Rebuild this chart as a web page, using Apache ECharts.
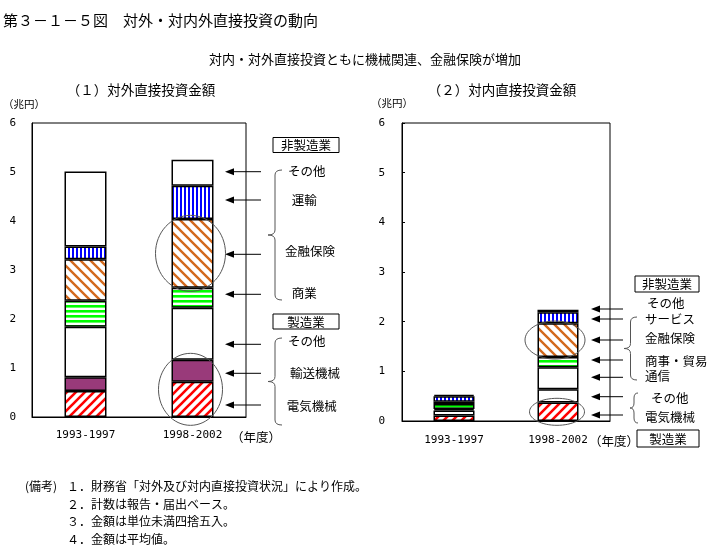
<!DOCTYPE html>
<html><head><meta charset="utf-8">
<script src="https://cdn.jsdelivr.net/npm/echarts@6/dist/echarts.min.js"></script>
<style>html,body{margin:0;padding:0;background:#fff}#c{width:721px;height:550px}</style>
</head><body><div id="c"></div>
<script>
// ---- data (兆円) ----
const periods = ['1993-1997', '1998-2002'];
// (1) 対外直接投資金額 (bottom -> top)
const outElectric     = [0.53, 0.72]; // 電気機械
const outTransportEq  = [0.28, 0.45]; // 輸送機械
const outMfgOther     = [1.03, 1.06]; // 製造業 その他
const outCommerce     = [0.53, 0.41]; // 商業
const outFinance      = [0.85, 1.40]; // 金融保険
const outTransport    = [0.26, 0.68]; // 運輸
const outNonMfgOther  = [1.53, 0.53]; // 非製造業 その他
// (2) 対内直接投資金額 (bottom -> top)
const inElectric      = [0.11, 0.37]; // 電気機械
const inMfgOther      = [0.10, 0.27]; // 製造業 その他
const inTelecom       = [0.03, 0.44]; // 通信
const inTrade         = [0.10, 0.21]; // 商事・貿易
const inFinance       = [0.05, 0.68]; // 金融保険
const inService       = [0.11, 0.22]; // サービス
const inNonMfgOther   = [0.03, 0.05]; // 非製造業 その他
const yMin = 0, yMax = 6, yStep = 1;

const JP = '"Noto Sans CJK JP", sans-serif';
const NUM = '"DejaVu Sans Mono", monospace';

// ---- patterns ----
function diag(color, p, lw, slash) {
  const c = document.createElement('canvas'); c.width = p; c.height = p;
  const g = c.getContext('2d');
  g.fillStyle = '#fff'; g.fillRect(0, 0, p, p);
  g.strokeStyle = color; g.lineWidth = lw; g.beginPath();
  for (let k = -1; k <= 1; k++) {
    if (slash) { g.moveTo(-1 + k * p, p + 1); g.lineTo(p + 1 + k * p, -1); }
    else { g.moveTo(-1 + k * p, -1); g.lineTo(p + 1 + k * p, p + 1); }
  }
  g.stroke();
  return { image: c, repeat: 'repeat' };
}
function stripes(color, p, lw, vertical) {
  const c = document.createElement('canvas'); c.width = p; c.height = p;
  const g = c.getContext('2d');
  g.fillStyle = '#fff'; g.fillRect(0, 0, p, p);
  g.fillStyle = color;
  if (vertical) g.fillRect(0, 0, lw, p); else g.fillRect(0, 0, p, lw);
  return { image: c, repeat: 'repeat' };
}
const redHatch = diag('#ff0000', 9, 2.6, true);
const orangeHatch = diag('#d2691e', 10, 2.4, false);
const blueStripe = stripes('#0000ff', 4, 2, true);
const greenStripe = stripes('#00ff00', 5, 2.6, false);
const purple = '#993a7a';

function bar(name, data, color, idx, w) {
  return {
    name, type: 'bar', stack: 'st' + idx, xAxisIndex: idx, yAxisIndex: idx,
    data, barWidth: w, silent: true, animation: false,
    itemStyle: { color, borderColor: '#000', borderWidth: 1.5 }
  };
}

const chart = echarts.init(document.getElementById('c'), null, { renderer: 'canvas' });

const axisLabelY = { color: '#000', fontFamily: NUM, fontSize: 11 };
const option = {
  animation: false,
  grid: [
    { left: 32, top: 123, width: 214, height: 294, show: true, borderColor: '#000', borderWidth: 1 },
    { left: 402, top: 123, width: 208, height: 298, show: true, borderColor: '#000', borderWidth: 1 }
  ],
  xAxis: [0, 1].map(i => ({
    type: 'category', gridIndex: i, data: periods,
    axisLine: { lineStyle: { color: '#000', width: 1 } },
    axisTick: { inside: true, length: 4, lineStyle: { color: '#000' } },
    axisLabel: { color: '#000', fontFamily: NUM, fontSize: 11, margin: i === 0 ? 13 : 14 }
  })),
  yAxis: [
    { type: 'value', gridIndex: 0, min: yMin, max: yMax, interval: yStep,
      axisLine: { show: true, lineStyle: { color: '#000' } }, axisTick: { show: false },
      splitLine: { show: false }, axisLabel: Object.assign({ margin: 16 }, axisLabelY) },
    { type: 'value', gridIndex: 1, min: yMin, max: yMax, interval: yStep,
      axisLine: { show: true, lineStyle: { color: '#000' } },
      axisTick: { show: true, inside: true, length: 3, lineStyle: { color: '#000' } },
      splitLine: { show: false }, axisLabel: Object.assign({ margin: 17 }, axisLabelY) }
  ],
  series: [
    bar('電気機械', outElectric, redHatch, 0, 42),
    bar('輸送機械', outTransportEq, purple, 0, 42),
    bar('その他(製造業)', outMfgOther, '#fff', 0, 42),
    bar('商業', outCommerce, greenStripe, 0, 42),
    bar('金融保険', outFinance, orangeHatch, 0, 42),
    bar('運輸', outTransport, blueStripe, 0, 42),
    bar('その他(非製造業)', outNonMfgOther, '#fff', 0, 42),
    bar('電気機械', inElectric, redHatch, 1, 41),
    bar('その他(製造業)', inMfgOther, '#fff', 1, 41),
    bar('通信', inTelecom, '#fff', 1, 41),
    bar('商事・貿易', inTrade, greenStripe, 1, 41),
    bar('金融保険', inFinance, orangeHatch, 1, 41),
    bar('サービス', inService, blueStripe, 1, 41),
    bar('その他(非製造業)', inNonMfgOther, '#fff', 1, 41)
  ]
};
chart.setOption(option);

// ---- annotations ----
const G = [];
function txt(s, x, y, size, align) {
  G.push({ type: 'text', x, y, silent: true, z: 100,
    style: { text: s, fill: '#000', font: size + 'px ' + JP, textAlign: align || 'left', textVerticalAlign: 'middle' } });
}
function box(s, x, y, w, h) {
  G.push({ type: 'rect', silent: true, z: 99, shape: { x, y, width: w, height: h },
    style: { fill: '#fff', stroke: '#000', lineWidth: 1 } });
  txt(s, x + w / 2, y + h / 2 + 0.5, 12.5, 'center');
}
function arrow(tip, tail, y) {
  G.push({ type: 'line', silent: true, z: 100, shape: { x1: tip + 6, y1: y, x2: tail, y2: y }, style: { stroke: '#000', lineWidth: 1 } });
  G.push({ type: 'polygon', silent: true, z: 100, shape: { points: [[tip, y], [tip + 9, y - 3.5], [tip + 9, y + 3.5]] }, style: { fill: '#000' } });
}
const braceStyle = { stroke: '#555', lineWidth: 1, fill: null };
function curve(x1, y1, cx, cy, x2, y2) {
  G.push({ type: 'bezierCurve', silent: true, z: 100, shape: { x1, y1, x2, y2, cpx1: cx, cpy1: cy }, style: braceStyle });
}
function seg(x1, y1, x2, y2) {
  G.push({ type: 'line', silent: true, z: 100, shape: { x1, y1, x2, y2 }, style: braceStyle });
}
function brace(x, y1, y2, w) {
  const ym = (y1 + y2) / 2, m = x + w / 2, r = 5;
  curve(x + w, y1, m, y1, m, y1 + r);
  seg(m, y1 + r, m, ym - r);
  curve(m, ym - r, m, ym, x, ym);
  curve(x, ym, m, ym, m, ym + r);
  seg(m, ym + r, m, y2 - r);
  curve(m, y2 - r, m, y2, x + w, y2);
}
function ellipse(cx, cy, rx, ry) {
  G.push({ type: 'ellipse', silent: true, z: 101, shape: { cx, cy, rx, ry }, style: { fill: null, stroke: '#555', lineWidth: 1 } });
}

// titles
txt('第３－１－５図　対外・対内外直接投資の動向', 3, 20, 15);
txt('対内・対外直接投資ともに機械関連、金融保険が増加', 365, 59, 13, 'center');
txt('（１）対外直接投資金額', 141, 90, 13.5, 'center');
txt('（２）対内直接投資金額', 502, 90, 13.5, 'center');
txt('（兆円）', 3, 104, 10.5);
txt('（兆円）', 371, 103, 10.5);
txt('（年度）', 231, 437, 12.5);
txt('（年度）', 589, 441, 12.5);

// left annotations
[171.7, 200, 254.3, 294.3, 344.3, 373.3, 405].forEach(y => arrow(225, 261, y));
box('非製造業', 273, 137.5, 66, 15);
box('製造業', 273, 314, 66, 15);
txt('その他', 288, 171.7, 12.5);
txt('運輸', 291.7, 200, 12.5);
txt('金融保険', 285, 251.7, 12.5);
txt('商業', 291.7, 293.3, 12.5);
txt('その他', 288, 341.7, 12.5);
txt('輸送機械', 290, 373.3, 12.5);
txt('電気機械', 286.7, 406.7, 12.5);

// right annotations
[309, 319, 340, 360, 377.3, 396.7, 415].forEach(y => arrow(591, 623, y));
box('非製造業', 635, 276, 64, 16);
box('製造業', 637, 430, 62, 17);
txt('その他', 647, 303, 12.5);
txt('サービス', 645, 319, 12.5);
txt('金融保険', 645, 338, 12.5);
txt('商事・貿易', 645, 361, 12.5);
txt('通信', 645, 376.5, 12.5);
txt('その他', 651, 398, 12.5);
txt('電気機械', 645, 417, 12.5);

// notes
txt('(備考)', 25, 486, 12);
txt('１．財務省「対外及び対内直接投資状況」により作成。', 67, 486, 12);
txt('２．計数は報告・届出ベース。', 67, 504, 12);
txt('３．金額は単位未満四捨五入。', 67, 521, 12);
txt('４．金額は平均値。', 67, 539, 12);

// braces
brace(268, 170, 300, 14);
brace(268, 338, 425, 14);
brace(624, 317, 380, 13);
brace(630, 393, 423, 8);

// ellipses around highlighted segments (centers from data through the axes)
const p = (g, i, v) => chart.convertToPixel({ gridIndex: g }, [i, v]);
const outFinMid = outElectric[1] + outTransportEq[1] + outMfgOther[1] + outCommerce[1] + outFinance[1] / 2;
const outMachMid = (outElectric[1] + outTransportEq[1]) / 2;
const inFinMid = inElectric[1] + inMfgOther[1] + inTelecom[1] + inTrade[1] + inFinance[1] / 2;
const inElecMid = inElectric[1] / 2;
let c1 = p(0, 1, outFinMid); ellipse(c1[0] - 2, c1[1], 35, 38);
let c2 = p(0, 1, outMachMid); ellipse(c2[0] - 2, c2[1] + 1, 32, 36);
let c3 = p(1, 1, inFinMid); ellipse(c3[0] - 3, c3[1], 30, 19);
let c4 = p(1, 1, inElecMid); ellipse(c4[0] - 1, c4[1], 27.5, 13.5);

chart.setOption({ graphic: { elements: G } });
</script>
</body></html>
